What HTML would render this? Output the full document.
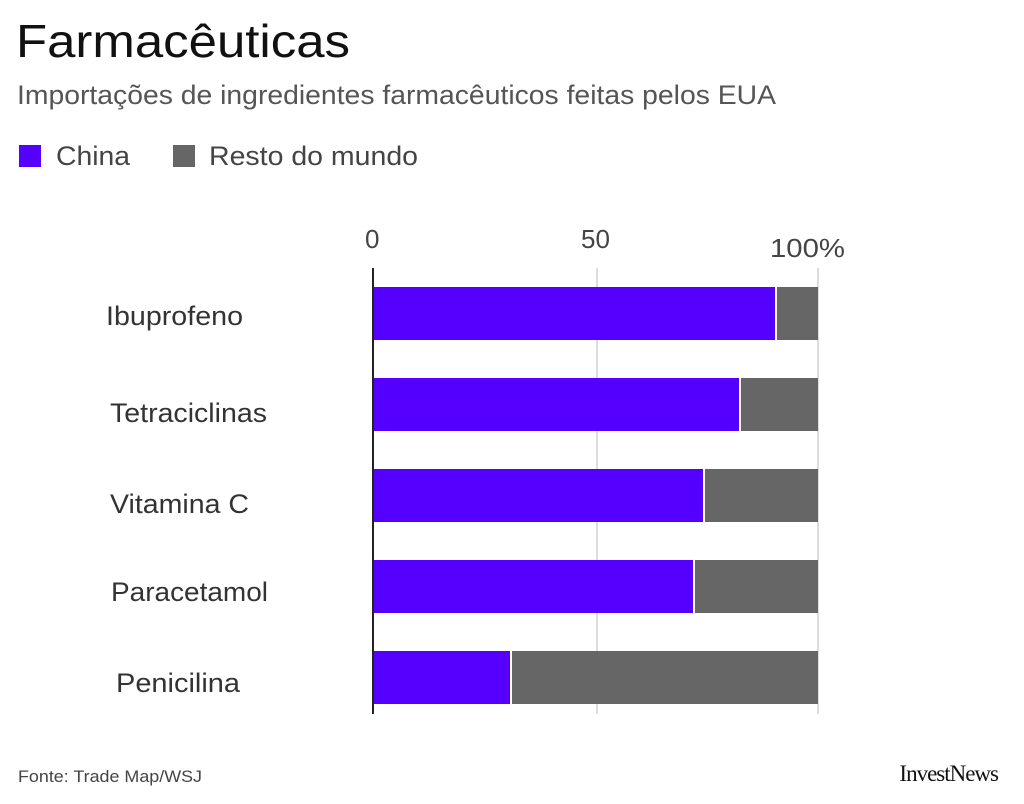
<!DOCTYPE html>
<html><head><meta charset="utf-8"><style>
body{margin:0;width:1024px;height:799px;background:#fff;overflow:hidden;font-family:"Liberation Sans",sans-serif;}
</style></head><body>
<svg width="1024" height="799" xmlns="http://www.w3.org/2000/svg" font-family="Liberation Sans, sans-serif">
<text x="16" y="57" font-size="46" fill="#111" textLength="334" lengthAdjust="spacingAndGlyphs">Farmacêuticas</text>
<text x="17" y="104" font-size="27" fill="#555" textLength="759" lengthAdjust="spacingAndGlyphs">Importações de ingredientes farmacêuticos feitas pelos EUA</text>
<rect x="19" y="145" width="22" height="22" fill="#5500ff"/>
<text x="56" y="165" font-size="27" fill="#444" textLength="74" lengthAdjust="spacingAndGlyphs">China</text>
<rect x="173" y="145" width="22" height="22" fill="#666"/>
<text x="209" y="165" font-size="27" fill="#444" textLength="209" lengthAdjust="spacingAndGlyphs">Resto do mundo</text>
<g font-size="26" fill="#444">
<text x="365" y="248">0</text><text x="581" y="248">50</text><text x="770" y="257" textLength="75" lengthAdjust="spacingAndGlyphs">100%</text>
</g>
<line x1="597" y1="268" x2="597" y2="714" stroke="#ddd" stroke-width="2"/>
<line x1="818" y1="268" x2="818" y2="714" stroke="#ddd" stroke-width="2"/>
<g>
<rect x="373" y="287" width="402" height="53" fill="#5500ff"/><rect x="777" y="287" width="41" height="53" fill="#666"/>
<rect x="373" y="378" width="366" height="53" fill="#5500ff"/><rect x="741" y="378" width="77" height="53" fill="#666"/>
<rect x="373" y="469" width="330" height="53" fill="#5500ff"/><rect x="705" y="469" width="113" height="53" fill="#666"/>
<rect x="373" y="560" width="320" height="53" fill="#5500ff"/><rect x="695" y="560" width="123" height="53" fill="#666"/>
<rect x="373" y="651" width="137" height="53" fill="#5500ff"/><rect x="512" y="651" width="306" height="53" fill="#666"/>
</g>
<line x1="373" y1="268" x2="373" y2="714" stroke="#222" stroke-width="2"/>
<g font-size="27" fill="#333" lengthAdjust="spacingAndGlyphs">
<text x="106" y="325" textLength="137" lengthAdjust="spacingAndGlyphs">Ibuprofeno</text>
<text x="110" y="422" textLength="157" lengthAdjust="spacingAndGlyphs">Tetraciclinas</text>
<text x="110" y="513" textLength="139" lengthAdjust="spacingAndGlyphs">Vitamina C</text>
<text x="111" y="601" textLength="157" lengthAdjust="spacingAndGlyphs">Paracetamol</text>
<text x="116" y="692" textLength="124" lengthAdjust="spacingAndGlyphs">Penicilina</text>
</g>
<text x="18" y="782" font-size="17" fill="#444" textLength="184" lengthAdjust="spacingAndGlyphs">Fonte:  Trade Map/WSJ</text>
<text x="998" y="781" font-size="23" fill="#111" text-anchor="end" font-family="Liberation Serif, serif" letter-spacing="-1">InvestNews</text>
</svg>
</body></html>
